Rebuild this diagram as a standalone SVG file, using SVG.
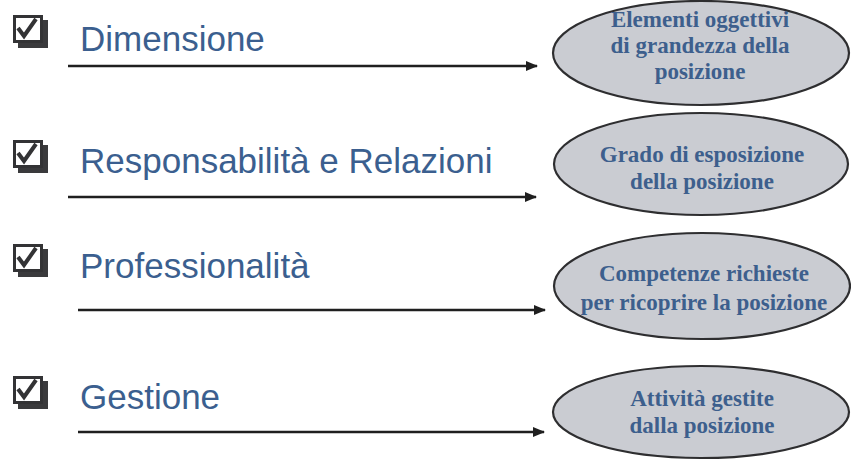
<svg xmlns="http://www.w3.org/2000/svg" width="851" height="461" viewBox="0 0 851 461">
<defs>
<style>
.lbl{font-family:"Liberation Sans",Arial,sans-serif;font-size:35px;fill:#3b5f8f}
.ell{fill:#caccd2;stroke:#2e2e30;stroke-width:2.2}
.et{font-family:"Liberation Serif","Times New Roman",serif;font-size:23px;font-weight:bold;fill:#3d5f8d;text-anchor:middle}
.conn{stroke:#1f1f1f;stroke-width:2.6;fill:none}
.cbs{fill:#3a3a3c}
.cbf{fill:#fff;stroke:#333335;stroke-width:3}
.chk{fill:none;stroke:#333335;stroke-width:4;stroke-linejoin:miter;stroke-linecap:butt}
</style>
<marker id="ah" markerWidth="12" markerHeight="10" refX="11" refY="5" orient="auto" markerUnits="userSpaceOnUse">
<path d="M0,0 L12,5 L0,10 Z" fill="#1f1f1f"/>
</marker>
<g id="cb">
<rect class="cbs" x="5" y="5" width="30" height="28"/>
<rect class="cbf" x="1.5" y="1.5" width="27" height="25"/>
<path class="chk" d="M5,13 L11,21 L23,4"/>
</g>
</defs>
<rect width="851" height="461" fill="#ffffff"/>

<g id="connectors">
<line class="conn" x1="68" y1="66" x2="537" y2="66" marker-end="url(#ah)"/>
<line class="conn" x1="68" y1="197" x2="536" y2="197" marker-end="url(#ah)"/>
<line class="conn" x1="78" y1="310" x2="545" y2="310" marker-end="url(#ah)"/>
<line class="conn" x1="78" y1="432" x2="544" y2="432" marker-end="url(#ah)"/>
</g>

<g id="item-dimensione">
<use href="#cb" x="13" y="15"/>
<text class="lbl" x="80" y="51">Dimensione</text>
</g>
<g id="item-responsabilita">
<use href="#cb" x="13" y="140"/>
<text class="lbl" x="80" y="173">Responsabilità e Relazioni</text>
</g>
<g id="item-professionalita">
<use href="#cb" x="13" y="244"/>
<text class="lbl" x="80" y="278">Professionalità</text>
</g>
<g id="item-gestione">
<use href="#cb" x="13" y="376"/>
<text class="lbl" x="80" y="409">Gestione</text>
</g>

<g id="node-elementi">
<ellipse class="ell" cx="701" cy="53" rx="148" ry="52"/>
<text class="et" x="700" y="27">Elementi oggettivi</text>
<text class="et" x="700" y="53">di grandezza della</text>
<text class="et" x="700" y="79">posizione</text>
</g>
<g id="node-grado">
<ellipse class="ell" cx="701" cy="164" rx="147" ry="51"/>
<text class="et" x="702" y="162">Grado di esposizione</text>
<text class="et" x="702" y="189">della posizione</text>
</g>
<g id="node-competenze">
<ellipse class="ell" cx="702" cy="286" rx="148" ry="53"/>
<text class="et" x="704" y="281">Competenze richieste</text>
<text class="et" x="704" y="310">per ricoprire la posizione</text>
</g>
<g id="node-attivita">
<ellipse class="ell" cx="701" cy="412" rx="148" ry="46"/>
<text class="et" x="702" y="406">Attività gestite</text>
<text class="et" x="702" y="433">dalla posizione</text>
</g>
</svg>
